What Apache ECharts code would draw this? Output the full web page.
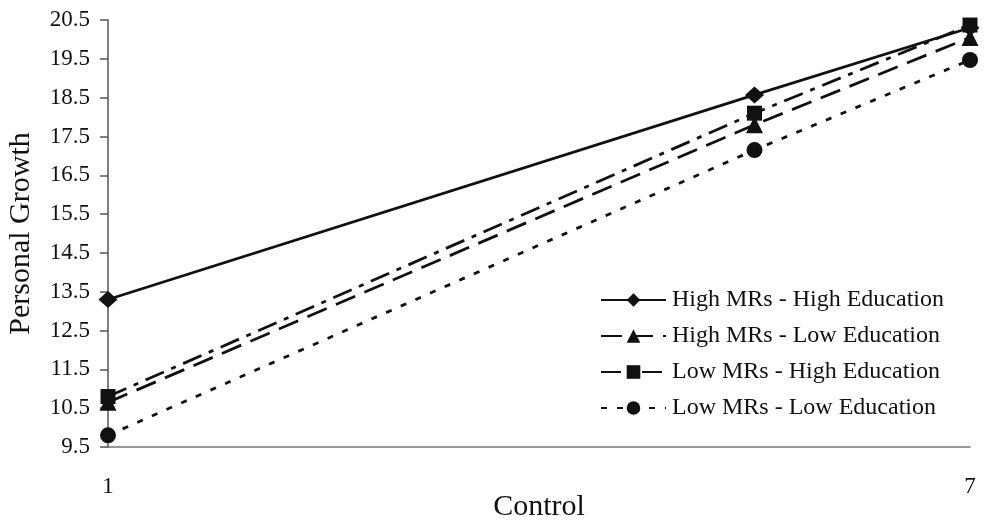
<!DOCTYPE html>
<html><head><meta charset="utf-8">
<script src="https://cdn.jsdelivr.net/npm/echarts@6/dist/echarts.min.js"></script>
<style>html,body{margin:0;padding:0;background:#fff}#c{width:986px;height:523px}</style>
</head><body><div id="c"></div>
<script>
const xValues = [1, 5.5, 7];
const seriesNames = ['High MRs - High Education','High MRs - Low Education','Low MRs - High Education','Low MRs - Low Education'];
const highHigh = [13.3, 18.57, 20.3];
const highLow = [10.65, 17.8, 20.05];
const lowHigh = [10.8, 18.1, 20.37];
const lowLow = [9.8, 17.15, 19.47];
const yTicks = [9.5,10.5,11.5,12.5,13.5,14.5,15.5,16.5,17.5,18.5,19.5,20.5];
const xTicks = [1, 7];

const font = 'Liberation Serif';
const allData = [highHigh, highLow, lowHigh, lowLow];
const symbols = ['diamond','triangle','rect','circle'];
const symSizes = [[19,17], 17, 15, 16];
const dashes = ['solid', [21,10], [20,8,5,8], [6,10]];
const chart = echarts.init(document.getElementById('c'));
chart.setOption({
  animation:false,
  backgroundColor:'#fff',
  grid:{left:108,right:16,top:20,bottom:76,outerBoundsMode:'none',containLabel:false},
  legend:{
    orient:'vertical', left:595, top:283, itemGap:12, itemWidth:65, itemHeight:17,
    textStyle:{fontFamily:font,fontSize:24,color:'#111',padding:[0,0,0,1]},
    data:seriesNames
  },
  xAxis:{
    type:'value', min:1, max:7,
    name:'Control', nameLocation:'middle', nameGap:45, nameMoveOverlap:false,
    nameTextStyle:{fontFamily:font,fontSize:30,color:'#111'},
    axisLine:{show:true,lineStyle:{color:'#777',width:1.5}},
    axisTick:{show:false},
    splitLine:{show:false},
    axisLabel:{customValues:xTicks, margin:28, fontFamily:font,fontSize:23,color:'#111'}
  },
  yAxis:{
    type:'value', min:9.5, max:20.5,
    name:'Personal Growth', nameLocation:'middle', nameGap:72, nameRotate:90, nameMoveOverlap:false,
    nameTextStyle:{fontFamily:font,fontSize:30,color:'#111'},
    axisLine:{show:true,lineStyle:{color:'#555',width:1.5}},
    axisTick:{show:true,customValues:yTicks,length:8,lineStyle:{color:'#555',width:1.5}},
    splitLine:{show:false},
    axisLabel:{customValues:yTicks, margin:18, fontFamily:font,fontSize:23,color:'#111',
      formatter:v=>v.toFixed(1)}
  },
  series: allData.map((d,i)=>({
    name:seriesNames[i], type:'line',
    data:d.map((v,j)=>[xValues[j],v]),
    symbol:symbols[i], symbolSize:symSizes[i],
    itemStyle:{color:'#111'},
    lineStyle:{color:'#111',width:2.8,type:dashes[i]},
    z: 2+i
  }))
});
</script></body></html>
